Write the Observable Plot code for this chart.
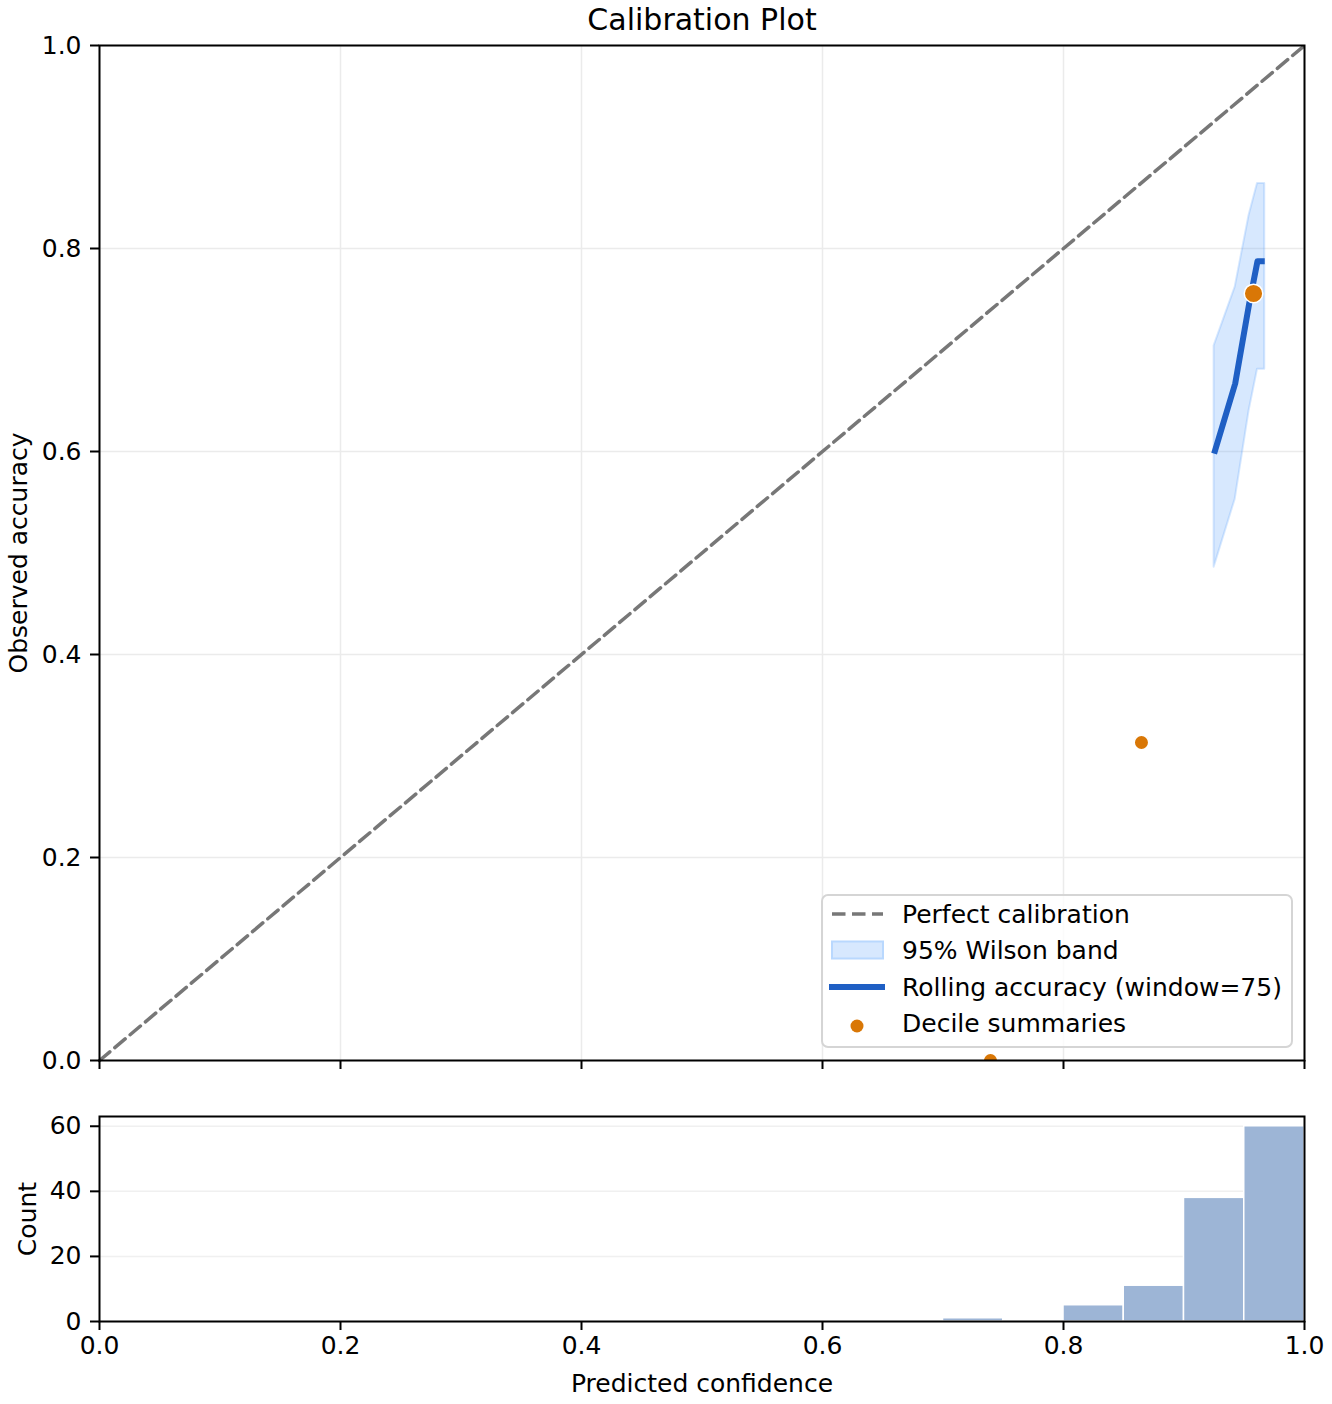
<!DOCTYPE html>
<html>
<head>
<meta charset="utf-8">
<script src="https://cdn.jsdelivr.net/npm/d3@7"></script>
<script src="https://cdn.jsdelivr.net/npm/@observablehq/plot@0.6"></script>
<style>
  html, body { margin: 0; padding: 0; background: white; }
  #page { position: relative; width: 1332px; height: 1404px; font-family: "DejaVu Sans", sans-serif; }
  #page svg.plot { display: block; }
  #legend { position: absolute; left: 0; top: 0; pointer-events: none; }
</style>
</head>
<body>
<div id="page"></div>
<script>
// ---- data ----
const titleText = "Calibration Plot";
const xTicks = [0, 0.2, 0.4, 0.6, 0.8, 1.0];
const yTicks = [0, 0.2, 0.4, 0.6, 0.8, 1.0];
const countTicks = [0, 20, 40, 60];

const diagX = [0, 1];
const diagY = [0, 1];

const bandX    = [0.925, 0.9425, 0.954, 0.961, 0.967];
const bandLow  = [0.486, 0.553, 0.640, 0.681, 0.681];
const bandHigh = [0.704, 0.762, 0.8325, 0.864, 0.864];

const rollX = [0.925, 0.9425, 0.954, 0.961, 0.967];
const rollY = [0.598, 0.667, 0.745, 0.7875, 0.7875];

const decileX = [0.7394, 0.8647, 0.9577];
const decileY = [0.0, 0.3133, 0.7557];
const decileN = [1, 16, 98];

const binLo  = [0.70, 0.75, 0.80, 0.85, 0.90, 0.95];
const binHi  = [0.75, 0.80, 0.85, 0.90, 0.95, 1.00];
const counts = [1, 0, 5, 11, 38, 60];

const legendLabels = ["Perfect calibration", "95% Wilson band", "Rolling accuracy (window=75)", "Decile summaries"];

// ---- styles ----
const FONT = "DejaVu Sans";
const FS = 25;
const C_DIAG = "#777777";
const C_BAND = "#60a5fa";
const C_LINE = "#1f5fc4";
const C_DOT = "#d97706";
const C_HIST = "#9db5d6";
const C_GRID = "#ebebeb";

const diag = diagX.map((x, i) => ({x, y: diagY[i]}));
const band = bandX.map((x, i) => ({x, lo: bandLow[i], hi: bandHigh[i]}));
const roll = rollX.map((x, i) => ({x, y: rollY[i]}));
const deciles = decileX.map((x, i) => ({x, y: decileY[i], n: decileN[i]}));
const hist = binLo.map((x1, i) => ({x1, x2: binHi[i], count: counts[i]})).filter(d => d.count > 0);

const W = 1332;
const style = {fontFamily: FONT, fontSize: FS + "px", background: "white", color: "black", overflow: "visible"};

const main = Plot.plot({
  width: W, height: 1075,
  marginLeft: 99, marginRight: 28, marginTop: 45, marginBottom: 15,
  style,
  x: {domain: [0, 1]},
  y: {domain: [0, 1]},
  r: {type: "linear", domain: [16, 98], range: [7.25, 9.3], clamp: true},
  marks: [
    Plot.gridX(xTicks, {stroke: C_GRID, strokeOpacity: 1, strokeWidth: 1.5}),
    Plot.gridY(yTicks, {stroke: C_GRID, strokeOpacity: 1, strokeWidth: 1.5}),
    Plot.line(diag, {x: "x", y: "y", stroke: C_DIAG, strokeWidth: 3.5, strokeDasharray: "13.5,6.5"}),
    Plot.areaY(band, {x: "x", y1: "lo", y2: "hi", fill: C_BAND, fillOpacity: 0.25, stroke: C_BAND, strokeOpacity: 0.25, strokeWidth: 2}),
    Plot.line(roll, {x: "x", y: "y", stroke: C_LINE, strokeWidth: 6, strokeLinecap: "butt"}),
    Plot.dot(deciles, {x: "x", y: "y", r: "n", fill: C_DOT, stroke: "white", strokeWidth: 1.5, clip: true}),
    Plot.frame({stroke: "black", strokeWidth: 2}),
    Plot.axisY({ticks: yTicks, tickFormat: d3.format(".1f"), tickSize: 9, tickPadding: 9, strokeWidth: 2, fontSize: FS,
      label: "Observed accuracy", labelAnchor: "center", labelArrow: "none", labelOffset: 90}),
    Plot.axisX({ticks: xTicks, tickFormat: () => "", tickSize: 9, strokeWidth: 2, label: null}),
    Plot.text([titleText], {text: d => d, frameAnchor: "top", dy: -25, lineAnchor: "middle", fontSize: 30, fill: "black"})
  ]
});

const bottom = Plot.plot({
  width: W, height: 329,
  marginLeft: 99, marginRight: 28, marginTop: 41, marginBottom: 83,
  style,
  x: {domain: [0, 1]},
  y: {domain: [0, 63]},
  marks: [
    Plot.gridY(countTicks, {stroke: "#f0f0f0", strokeOpacity: 1, strokeWidth: 1.5}),
    Plot.rectY(hist, {x1: "x1", x2: "x2", y: "count", fill: C_HIST, stroke: "white", strokeWidth: 1.5, inset: 0}),
    Plot.frame({stroke: "black", strokeWidth: 2}),
    Plot.axisY({ticks: countTicks, tickFormat: d3.format("d"), tickSize: 9, tickPadding: 9, strokeWidth: 2, fontSize: FS,
      label: "Count", labelAnchor: "center", labelArrow: "none", labelOffset: 81}),
    Plot.axisX({ticks: xTicks, tickFormat: d3.format(".1f"), tickSize: 9, tickPadding: 6, strokeWidth: 2, fontSize: FS,
      label: "Predicted confidence", labelAnchor: "center", labelArrow: "none", labelOffset: 70})
  ]
});

const page = document.getElementById("page");
page.appendChild(main);
page.appendChild(bottom);

// ---- legend overlay ----
const NS = "http://www.w3.org/2000/svg";
const lg = document.createElementNS(NS, "svg");
lg.setAttribute("id", "legend");
lg.setAttribute("width", W);
lg.setAttribute("height", 1404);
function el(tag, attrs) {
  const e = document.createElementNS(NS, tag);
  for (const k in attrs) e.setAttribute(k, attrs[k]);
  lg.appendChild(e);
  return e;
}
el("rect", {x: 822, y: 895, width: 470, height: 152, rx: 6, fill: "white", "fill-opacity": 0.8, stroke: "#d5d5d5", "stroke-width": 2});
const rowsY = [914, 950, 987, 1023];
el("line", {x1: 832, x2: 883, y1: rowsY[0], y2: rowsY[0], stroke: C_DIAG, "stroke-width": 3.5, "stroke-dasharray": "13.5,6.5"});
el("rect", {x: 832, y: rowsY[1] - 8.5, width: 51, height: 17, fill: "#d7e8fe", stroke: "#b9d8fe", "stroke-width": 2});
el("line", {x1: 829, x2: 885, y1: rowsY[2], y2: rowsY[2], stroke: C_LINE, "stroke-width": 6});
el("circle", {cx: 857, cy: rowsY[3] + 3, r: 6.5, fill: C_DOT});
legendLabels.forEach((t, i) => {
  const tx = el("text", {x: 902, y: rowsY[i], "dominant-baseline": "central", "font-family": FONT, "font-size": FS, fill: "black"});
  tx.textContent = t;
});
page.appendChild(lg);
</script>
</body>
</html>
